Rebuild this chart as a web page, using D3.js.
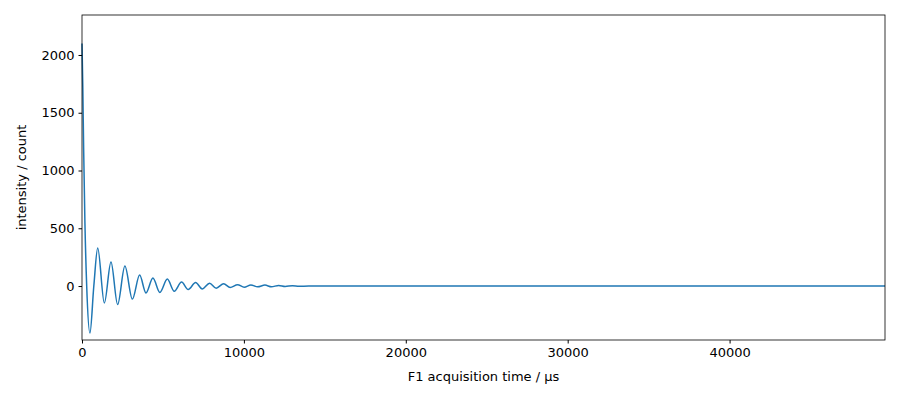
<!DOCTYPE html>
<html><head><meta charset="utf-8">
<script src="https://cdn.jsdelivr.net/npm/d3@7"></script>
<style>body{margin:0;background:#fff}text{font-family:"DejaVu Sans",sans-serif}</style>
</head><body><div id="chart"></div>
<script>
// FID samples (time in µs, intensity in counts)
const times = [0, 50, 100, 180, 290, 490, 730, 970, 1380, 1790, 2200, 2650, 3110, 3560, 3950, 4380, 4810, 5270, 5700, 6150, 6560, 7020, 7430, 7880, 8290, 8750, 9150, 9610, 10020, 10430, 10850, 11300, 11700, 12150, 12550, 13000, 13400, 14000, 20000, 30000, 40000, 49600];
const values = [2100, 1720, 1200, 550, 0, -407, 0, 330, -147, 208, -160, 173, -113, 95, -60, 70, -55, 60, -45, 35, -30, 30, -25, 25, -18, 20, -12, 12, -10, 10, -7, 8, -6, 5, -4, 3, -2, 0, 0, 0, 0, 0];
const xTicks = [0, 10000, 20000, 30000, 40000];
const yTicks = [0, 500, 1000, 1500, 2000];

const width = 900, height = 400;
const margin = { top: 15, right: 15, bottom: 60, left: 82 };

const svg = d3.select('#chart').append('svg')
  .attr('width', width).attr('height', height);

const x = d3.scaleLinear().domain([0, 49600]).range([margin.left, width - margin.right]);
const y = d3.scaleLinear().domain([-467, 2346]).range([height - margin.bottom, margin.top]);

const points = times.map((t, i) => [t, values[i]]);

svg.append('path')
  .datum(points)
  .attr('fill', 'none')
  .attr('stroke', '#1f77b4')
  .attr('stroke-width', 1.5)
  .attr('d', d3.line().x(d => x(d[0])).y(d => y(d[1])).curve(d3.curveMonotoneX));

// Axes
const xAxis = svg.append('g')
  .attr('transform', `translate(0,${height - margin.bottom})`)
  .call(d3.axisBottom(x).tickValues(xTicks).tickFormat(d3.format('d')).tickSizeOuter(0).tickSize(3.5).tickPadding(4));
const yAxis = svg.append('g')
  .attr('transform', `translate(${margin.left},0)`)
  .call(d3.axisLeft(y).tickValues(yTicks).tickFormat(d3.format('d')).tickSizeOuter(0).tickSize(3.5).tickPadding(4));
[xAxis, yAxis].forEach(a => {
  a.selectAll('text').attr('font-size', 13).attr('fill', '#000');
  a.selectAll('line').attr('stroke', '#000');
  a.select('.domain').remove();
});

svg.append('rect')
  .attr('x', margin.left).attr('y', margin.top)
  .attr('width', width - margin.left - margin.right)
  .attr('height', height - margin.top - margin.bottom)
  .attr('fill', 'none').attr('stroke', '#000').attr('stroke-width', 0.8);

svg.append('text')
  .attr('x', (margin.left + width - margin.right) / 2).attr('y', 381)
  .attr('text-anchor', 'middle').attr('font-size', 13)
  .text('F1 acquisition time / µs');

svg.append('text')
  .attr('transform', `translate(26,${(margin.top + height - margin.bottom) / 2}) rotate(-90)`)
  .attr('text-anchor', 'middle').attr('font-size', 13)
  .text('intensity / count');
</script></body></html>
